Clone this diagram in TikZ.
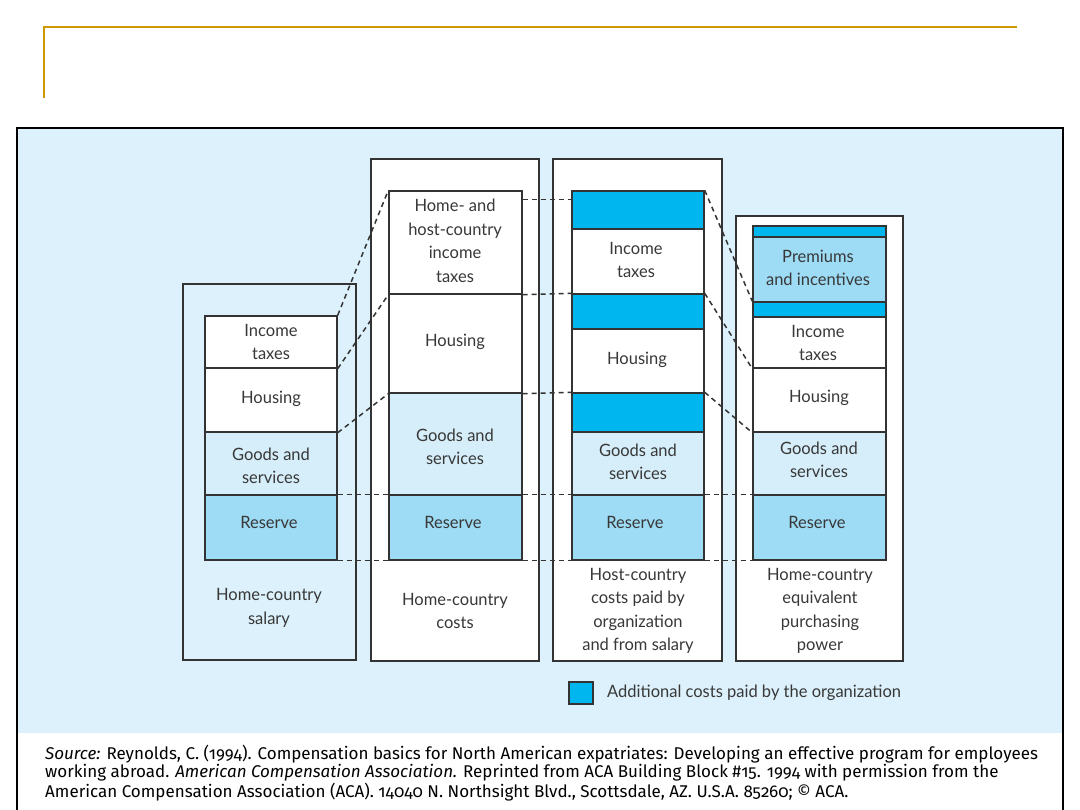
\documentclass[tikz,border=0pt]{standalone}
\usepackage{fontspec}
\newfontfamily\dfont[FakeStretch=0.97]{Lato}
\newfontfamily\sfontx[FakeStretch=1.0,Numbers=OldStyle]{Fira Sans}
\definecolor{bgblue}{HTML}{DCF1FB}
\definecolor{goods}{HTML}{D6EEFA}
\definecolor{reserve}{HTML}{9EDBF5}
\definecolor{addblue}{HTML}{00B6EE}
\definecolor{gold}{HTML}{CC9900}
\definecolor{txtgray}{HTML}{383838}
\definecolor{edge}{HTML}{333333}
\begin{document}
\begin{tikzpicture}[x=1pt,y=-1pt,
  outer/.style={draw=edge, line width=1.4pt, rectangle, inner sep=0pt},
  seg/.style={draw=edge, line width=1.4pt, rectangle, inner sep=0pt, fill=white},
  w1/.style={minimum width=132pt},
  w2/.style={minimum width=133pt},
  txt/.style={font=\dfont\fontsize{17}{23.5}\selectfont, text=txtgray, align=center, inner sep=0pt},
  conn/.style={draw=edge, line width=1.5pt, dash pattern=on 5pt off 4pt},
  src/.style={font=\sfontx\fontsize{17}{19}\selectfont, text=black, anchor=west, inner sep=0pt}
]
\useasboundingbox (0,0) rectangle (1080,810);
\fill[white] (0,0) rectangle (1080,810);
% gold title rule
\draw[gold, line width=2pt] (44,98) -- (44,27) -- (1017,27);
% panel
\fill[bgblue] (17,128) rectangle (1063,733);
\draw[black, line width=1.6pt] (17,810) -- (17,128) -- (1063,128) -- (1063,810);

% outer boxes
\node[outer, minimum width=173pt, minimum height=376pt] (o1) at (269.5,472) {};
\node[outer, fill=white, minimum width=168pt, minimum height=502pt] (o2) at (455,410) {};
\node[outer, fill=white, minimum width=169pt, minimum height=502pt] (o3) at (637.5,410) {};
\node[outer, fill=white, minimum width=167pt, minimum height=445pt] (o4) at (819.5,438.5) {};

% column 1
\node[seg, w1, minimum height=52pt] (c1tax) at (271,342) {};
\node[seg, w1, minimum height=64pt] (c1hou) at (271,400) {};
\node[seg, w1, fill=goods, minimum height=63pt] (c1goo) at (271,463.5) {};
\node[seg, w1, fill=reserve, minimum height=65pt] (c1res) at (271,527.5) {};
% column 2
\node[seg, w2, minimum height=103pt] (c2tax) at (455.5,242.5) {};
\node[seg, w2, minimum height=99pt] (c2hou) at (455.5,343.5) {};
\node[seg, w2, fill=goods, minimum height=102pt] (c2goo) at (455.5,444) {};
\node[seg, w2, fill=reserve, minimum height=65pt] (c2res) at (455.5,527.5) {};
% column 3
\node[seg, w1, fill=addblue, minimum height=38pt] (c3b1) at (638,210) {};
\node[seg, w1, minimum height=65pt] (c3tax) at (638,261.5) {};
\node[seg, w1, fill=addblue, minimum height=35pt] (c3b2) at (638,311.5) {};
\node[seg, w1, minimum height=64pt] (c3hou) at (638,361) {};
\node[seg, w1, fill=addblue, minimum height=39pt] (c3b3) at (638,412.5) {};
\node[seg, w1, fill=goods, minimum height=63pt] (c3goo) at (638,463.5) {};
\node[seg, w1, fill=reserve, minimum height=65pt] (c3res) at (638,527.5) {};
% column 4
\node[seg, w2, fill=addblue, minimum height=11pt] (c4b1) at (819.5,231.5) {};
\node[seg, w2, fill=reserve, minimum height=65pt] (c4pre) at (819.5,269.5) {};
\node[seg, w2, fill=addblue, minimum height=15pt] (c4b2) at (819.5,309.5) {};
\node[seg, w2, minimum height=51pt] (c4tax) at (819.5,342.5) {};
\node[seg, w2, minimum height=64pt] (c4hou) at (819.5,400) {};
\node[seg, w2, fill=goods, minimum height=63pt] (c4goo) at (819.5,463.5) {};
\node[seg, w2, fill=reserve, minimum height=65pt] (c4res) at (819.5,527.5) {};

% dashed connectors
\draw[conn] (c1tax.north east) -- (c2tax.north west);
\draw[conn] (c1tax.south east) -- (c2tax.south west);
\draw[conn] (c1hou.south east) -- (c2hou.south west);
\draw[conn] (c1res.north east) -- (c2res.north west);
\draw[conn] (c1res.south east) -- (c2res.south west);
\draw[conn] ([yshift=-9pt]c2tax.north east) -- ([yshift=-9pt]c3b1.north west);
\draw[conn] (c2tax.south east) -- (c3b2.north west);
\draw[conn] (c2hou.south east) -- (c3b3.north west);
\draw[conn] (c2res.north east) -- (c3res.north west);
\draw[conn] (c2res.south east) -- (c3res.south west);
\draw[conn] (c3b1.north east) -- (c4b2.north west);
\draw[conn] (c3b2.north east) -- (c4tax.south west);
\draw[conn] (c3b3.north east) -- (c4hou.south west);
\draw[conn] (c3res.north east) -- (c4res.north west);
\draw[conn] (c3res.south east) -- (c4res.south west);

% texts column 1
\node[txt] (t1tax) at (271,342) {Income\\taxes};
\node[txt] (t1hou) at (271,399) {Housing};
\node[txt] (t1goo) at (271,466) {Goods and\\services};
\node[txt] (t1res) at (269,522) {Reserve};
\node[txt] (t1lab) at (269,608) {Home-country\\salary};
% texts column 2
\node[txt] (t2tax) at (455,241) {Home- and\\host-country\\income\\taxes};
\node[txt] (t2hou) at (455,342) {Housing};
\node[txt] (t2goo) at (455,447) {Goods and\\services};
\node[txt] (t2res) at (453,522) {Reserve};
\node[txt] (t2lab) at (455,611) {Home-country\\costs};
% texts column 3
\node[txt] (t3tax) at (636,260) {Income\\taxes};
\node[txt] (t3hou) at (637,360) {Housing};
\node[txt] (t3goo) at (638,462) {Goods and\\services};
\node[txt] (t3res) at (635,522) {Reserve};
\node[txt] (t3lab) at (638,611) {Host-country\\costs paid by\\organization\\and from salary};
% texts column 4
\node[txt] (t4pre) at (818,268) {Premiums\\and incentives};
\node[txt] (t4tax) at (818,343) {Income\\taxes};
\node[txt] (t4hou) at (819,398) {Housing};
\node[txt] (t4goo) at (819,460) {Goods and\\services};
\node[txt] (t4res) at (817,522) {Reserve};
\node[txt] (t4lab) at (820,611) {Home-country\\equivalent\\purchasing\\power};

% legend
\node[seg, fill=addblue, minimum width=24pt, minimum height=22pt] (leg) at (581,693) {};
\node[txt, anchor=west] (legt) at (607,693) {Additional costs paid by the organization};

% source
\node[src] (s1) at (45,754) {\textit{Source:} Reynolds, C. (1994). Compensation basics for North American expatriates: Developing an effective program for employees};
\node[src] (s2) at (45,773) {working abroad. \textit{American Compensation Association.} Reprinted from ACA Building Block \#15. 1994 with permission from the};
\node[src] (s3) at (45,792) {American Compensation Association (ACA). 14040 N. Northsight Blvd., Scottsdale, AZ. U.S.A. 85260; © ACA.};
\end{tikzpicture}
\end{document}
